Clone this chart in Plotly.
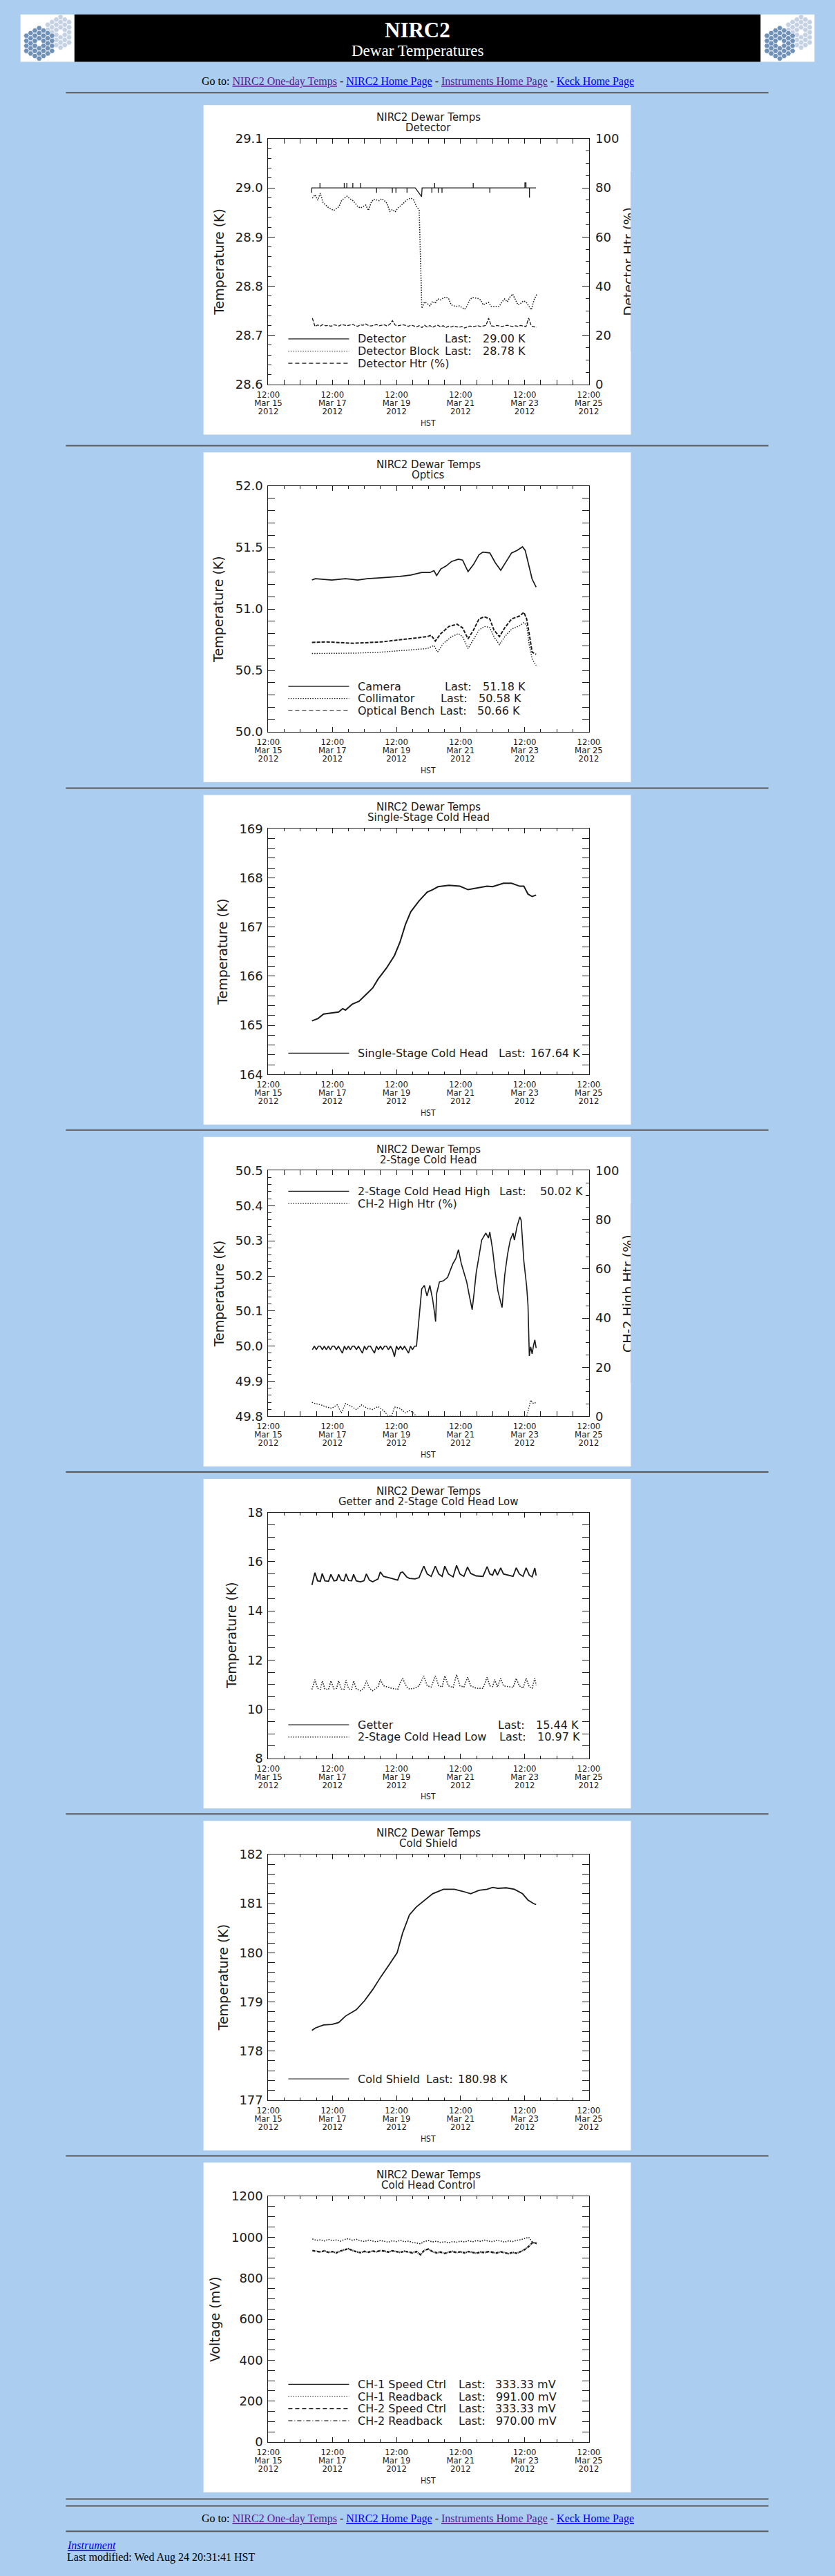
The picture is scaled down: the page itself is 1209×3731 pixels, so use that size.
import numpy as np
import pandas as pd
import plotly.graph_objects as go

W, H = 1209, 3731
BG = "#ABCDEF"
INK = "#1a1a1a"
SANS = "DejaVu Sans"
NARROW = "DejaVu Sans Condensed, Liberation Sans Narrow, DejaVu Sans"
SERIF = "Liberation Serif"
VISITED, LINK = "#551A8B", "#0000EE"

START = pd.Timestamp("2012-03-15 12:00")
END = pd.Timestamp("2012-03-25 12:00")

# ---------------------------------------------------------------------------
# data; times are hours after 12:00 Mar 15 2012 (HST)
# ---------------------------------------------------------------------------

# Detector (K) - flat at 29.00 with single-sample glitches
DET_H = [32.5, 32.6, 38.7, 38.7, 38.7, 56.9, 56.9, 56.9, 58.8, 58.8, 58.8,
         63.3, 63.3, 63.3, 69.1, 69.1, 69.1, 81.1, 81.1, 81.1, 92.9, 92.9, 92.9,
         95.6, 95.6, 95.6, 103.9, 103.9, 103.9, 110.1, 114.8, 115.2,
         122.5, 122.5, 122.5, 124.6, 124.6, 124.6, 127.3, 127.3, 127.3,
         130.1, 130.1, 130.1, 153.5, 153.5, 153.5, 165.9, 165.9, 165.9,
         192.2, 192.2, 193.0, 193.0, 195.6, 195.6, 195.6, 200.5]
DET_K = [28.99, 29.00,
         29.00, 29.01, 29.00, 29.00, 29.01, 29.00, 29.00, 29.01, 29.00,
         29.00, 29.01, 29.00, 29.00, 29.01, 29.00, 29.00, 28.99, 29.00,
         29.00, 28.99, 29.00, 29.00, 28.99, 29.00, 29.00, 28.99, 29.00,
         29.00, 28.982, 29.00,
         29.00, 28.99, 29.00, 29.00, 29.01, 29.00, 29.00, 28.99, 29.00,
         29.00, 28.99, 29.00, 29.00, 29.01, 29.00, 29.00, 28.99, 29.00,
         29.00, 29.01, 29.01, 29.00, 29.00, 28.98, 29.00, 29.00]

# Detector block (K) and detector heater (%), sampled every 2 h
BLOCK_H = list(range(33, 203, 2))
BLOCK_K = [28.979, 28.986, 28.975, 28.989, 28.970, 28.965, 28.960, 28.957, 28.954, 28.958,
           28.962, 28.975, 28.979, 28.983, 28.978, 28.975, 28.969, 28.962, 28.959, 28.962,
           28.965, 28.954, 28.970, 28.977, 28.976, 28.974, 28.978, 28.974, 28.968, 28.952,
           28.956, 28.951, 28.959, 28.963, 28.968, 28.974, 28.978, 28.979, 28.975, 28.962,
           28.955, 28.755, 28.768, 28.765, 28.760, 28.769, 28.765, 28.774, 28.772, 28.776,
           28.778, 28.775, 28.762, 28.760, 28.759, 28.760, 28.757, 28.753, 28.760, 28.773,
           28.777, 28.776, 28.775, 28.772, 28.762, 28.765, 28.767, 28.759, 28.759, 28.758,
           28.759, 28.768, 28.774, 28.768, 28.778, 28.784, 28.772, 28.762, 28.765, 28.770,
           28.768, 28.760, 28.752, 28.772, 28.783]
DET_HTR = [27.0, 23.6, 24.2, 23.8, 24.4, 23.9, 24.1, 23.7, 24.3, 24.0,
           23.8, 24.4, 24.1, 23.9, 24.2, 24.5, 24.0, 23.7, 24.3, 24.1,
           24.6, 24.0, 23.8, 24.2, 24.4, 23.9, 24.1, 24.3, 23.8, 24.5,
           26.0, 24.2, 23.9, 24.1, 24.3, 24.0, 23.7, 24.2, 23.8, 23.5,
           23.9, 23.2, 24.1, 23.4, 24.0, 23.3, 23.8, 24.1, 23.5, 23.9,
           23.2, 23.7, 23.4, 23.9, 23.5, 23.3, 23.6, 23.0, 23.4, 23.8,
           23.5, 23.7, 23.9, 23.6, 23.8, 24.0, 27.0, 23.9, 23.7, 24.0,
           23.8, 23.6, 23.9, 24.1, 23.8, 23.6, 23.9, 23.7, 24.0, 23.8,
           23.6, 27.0, 23.8, 23.5, 23.3]

# Optics (K)
CAM_H = [32.7, 35.3, 47.6, 57.8, 66.9, 74.1, 84.3, 98.6, 106.7, 114.9, 121.0,
         124.1, 126.1, 129.2, 133.3, 137.3, 142.4, 145.5, 149.6, 153.7, 157.8,
         160.8, 165.9, 170.0, 174.1, 178.2, 182.2, 186.3, 190.4, 192.4, 195.5,
         197.6, 200.6]
CAM_K = [51.236, 51.247, 51.236, 51.247, 51.236, 51.247, 51.254, 51.265, 51.276,
         51.297, 51.297, 51.312, 51.272, 51.326, 51.351, 51.387, 51.405, 51.398,
         51.305, 51.362, 51.441, 51.463, 51.456, 51.377, 51.315, 51.387, 51.456,
         51.477, 51.506, 51.477, 51.333, 51.243, 51.178]
COLL_H = [32.7, 47.6, 65.9, 84.3, 104.7, 119.0, 124.1, 126.7, 131.2, 137.3,
          142.4, 145.5, 149.6, 153.7, 157.8, 161.8, 165.9, 169.0, 173.1, 177.1,
          182.2, 188.4, 191.4, 193.5, 195.5, 197.6, 200.6]
COLL_K = [50.638, 50.641, 50.641, 50.649, 50.667, 50.678, 50.703, 50.649, 50.721,
          50.775, 50.800, 50.775, 50.678, 50.750, 50.829, 50.858, 50.850, 50.775,
          50.710, 50.775, 50.836, 50.865, 50.890, 50.865, 50.703, 50.595, 50.541]
BENCH_H = [32.7, 43.5, 63.9, 84.3, 104.7, 119.0, 122.0, 125.1, 129.2, 135.3,
           141.4, 145.5, 149.6, 153.7, 157.8, 161.8, 165.9, 169.0, 173.1, 177.1,
           182.2, 188.4, 191.4, 193.5, 195.5, 197.6, 200.6]
BENCH_K = [50.728, 50.732, 50.721, 50.732, 50.757, 50.775, 50.786, 50.739, 50.800,
           50.858, 50.876, 50.847, 50.757, 50.829, 50.919, 50.937, 50.919, 50.829,
           50.775, 50.847, 50.919, 50.944, 50.973, 50.919, 50.793, 50.649, 50.631]

# Single-stage cold head (K)
SSCH_H = [32.7, 37.3, 41.4, 47.6, 52.7, 55.7, 57.8, 62.9, 68.0, 74.1, 78.2, 82.2,
          88.4, 94.5, 98.6, 102.7, 106.7, 112.9, 119.0, 123.1, 127.1, 135.3, 143.5,
          149.6, 157.8, 163.9, 168.0, 176.1, 182.2, 188.4, 191.4, 194.5, 197.6, 200.6]
SSCH_K = [165.09, 165.14, 165.23, 165.25, 165.27, 165.34, 165.31, 165.43, 165.49,
          165.65, 165.76, 165.94, 166.16, 166.42, 166.69, 167.05, 167.31, 167.53,
          167.71, 167.76, 167.82, 167.85, 167.83, 167.76, 167.80, 167.83, 167.82,
          167.89, 167.89, 167.83, 167.83, 167.67, 167.62, 167.65]

# 2-stage cold head high (K): quantised flat stretch every 1.5 h, then turning points
CH2_FLAT_H = [33.0 + 1.5 * i for i in range(53)]
CH2_FLAT_K = [49.99, 50.00, 49.99, 50.00, 50.00, 49.99, 50.00, 49.99, 50.00, 49.99,
              50.00, 50.00, 49.99, 50.00, 49.99, 49.98, 50.00, 49.99, 50.00, 49.99,
              50.00, 50.00, 49.99, 50.00, 49.99, 49.98, 50.00, 49.99, 50.00, 50.00,
              49.99, 49.98, 50.00, 49.99, 50.00, 49.99, 50.00, 50.00, 49.99, 50.00,
              49.99, 49.97, 50.00, 49.99, 50.00, 49.99, 50.00, 49.99, 49.98, 50.00,
              49.99, 50.00, 50.00]
CH2_REST_H = [114.9, 116.9, 117.9, 118.9, 121.0, 123.1, 124.7, 125.3, 126.1, 128.2,
              131.2, 134.3, 136.3, 138.4, 140.4, 142.4, 144.5, 146.5, 148.6, 150.6,
              152.7, 154.1, 155.7, 157.8, 159.8, 162.9, 164.9, 165.9, 168.0, 170.0,
              172.0, 174.1, 175.1, 177.1, 179.2, 181.2, 183.3, 184.3, 186.3, 188.4,
              189.4, 191.4, 193.5, 194.5, 195.5, 196.5, 197.6, 198.6, 199.6, 200.6]
CH2_REST_K = [50.163, 50.173, 50.157, 50.143, 50.173, 50.133, 50.090, 50.070, 50.150, 50.183,
              50.186, 50.196, 50.216, 50.236, 50.249, 50.275, 50.236, 50.209, 50.183, 50.143,
              50.104, 50.150, 50.209, 50.256, 50.302, 50.322, 50.308, 50.325, 50.275, 50.209,
              50.157, 50.124, 50.110, 50.203, 50.262, 50.302, 50.322, 50.302, 50.341, 50.368,
              50.358, 50.242, 50.170, 50.117, 49.972, 49.998, 49.978, 50.001, 50.018, 49.995]
CH2_HTR_H = [32.7, 35.3, 39.4, 43.5, 47.6, 51.6, 54.7, 57.8, 61.8, 65.9, 70.0, 74.1,
             78.2, 82.2, 86.3, 89.4, 92.4, 94.5, 98.6, 102.7, 105.7, 108.8, 110.8,
             193.5, 195.5, 196.5, 198.6, 200.6]
CH2_HTR = [5.7, 5.2, 4.7, 3.8, 3.3, 4.7, 1.4, 5.2, 4.2, 2.8, 4.7, 3.3,
           2.8, 4.0, 2.4, 0.5, 0.0, 3.8, 3.3, 1.4, 2.4, 1.4, 0.0,
           0.0, 4.2, 6.6, 5.2, 5.7]

# Getter and 2-stage cold head low (K), turning points
GET_H = [32.7, 34.9, 36.9, 39.0, 40.4, 42.4, 45.1, 46.9, 49.2, 51.2,
         52.7, 54.7, 56.7, 58.2, 60.2, 62.4, 63.9, 65.9, 69.0, 71.6,
         73.5, 75.7, 78.2, 82.2, 83.9, 86.3, 92.4, 96.9, 99.0, 100.6,
         103.7, 105.7, 109.8, 112.9, 116.5, 119.0, 122.0, 125.1, 127.6, 130.2,
         132.2, 134.9, 138.4, 141.0, 143.5, 146.5, 149.2, 151.6, 155.7, 160.8,
         163.9, 165.9, 168.0, 169.6, 171.6, 174.1, 176.1, 183.3, 185.7, 188.0,
         190.8, 193.1, 195.5, 197.6, 199.6, 200.6]
GETTER_K = [15.05, 15.55, 15.22, 15.20, 15.52, 15.22, 15.20, 15.48, 15.22, 15.24,
            15.48, 15.24, 15.22, 15.50, 15.23, 15.22, 15.48, 15.22, 15.18, 15.22,
            15.50, 15.25, 15.18, 15.30, 15.58, 15.40, 15.32, 15.25, 15.55, 15.58,
            15.38, 15.32, 15.30, 15.35, 15.82, 15.50, 15.40, 15.82, 15.50, 15.40,
            15.82, 15.50, 15.38, 15.85, 15.50, 15.40, 15.78, 15.52, 15.42, 15.40,
            15.80, 15.50, 15.45, 15.70, 15.45, 15.75, 15.50, 15.40, 15.75, 15.50,
            15.40, 15.75, 15.45, 15.38, 15.74, 15.44]
CHLOW_K = [10.80, 11.20, 10.85, 10.80, 11.15, 10.82, 10.80, 11.15, 10.82, 10.85,
           11.15, 10.82, 10.80, 11.18, 10.82, 10.80, 11.15, 10.82, 10.75, 10.85,
           11.15, 10.85, 10.75, 10.90, 11.20, 10.95, 10.85, 10.80, 11.10, 11.25,
           10.90, 10.82, 10.85, 10.95, 11.35, 10.95, 10.90, 11.35, 10.95, 10.90,
           11.35, 10.95, 10.88, 11.40, 10.95, 10.90, 11.30, 10.95, 10.85, 10.85,
           11.30, 10.95, 10.92, 11.20, 10.90, 11.25, 10.95, 10.88, 11.25, 10.95,
           10.85, 11.25, 10.90, 10.85, 11.25, 10.97]

# Cold shield (K)
SHIELD_H = [32.7, 35.3, 41.4, 47.6, 52.7, 57.8, 65.9, 72.0, 78.2, 84.3, 90.4,
            96.5, 100.6, 105.7, 110.8, 116.9, 123.1, 131.2, 139.4, 145.5, 151.6,
            157.8, 163.9, 168.0, 172.0, 178.2, 184.3, 190.4, 194.5, 198.6, 200.6]
SHIELD_K = [178.42, 178.47, 178.53, 178.54, 178.58, 178.71, 178.84, 179.02, 179.25,
            179.51, 179.75, 180.00, 180.40, 180.77, 180.93, 181.07, 181.20, 181.29,
            181.29, 181.25, 181.20, 181.27, 181.29, 181.33, 181.31, 181.32, 181.29,
            181.20, 181.07, 181.00, 180.98]

# Cold head control readbacks (mV), sampled every 3 h
CTRL_H = list(range(33, 202, 3))
CH1_RB = [992, 985, 988, 982, 990, 984, 987, 981, 989, 993,
          985, 990, 983, 979, 986, 982, 978, 984, 980, 976,
          983, 979, 985, 978, 981, 975, 972, 968, 980, 984,
          977, 981, 975, 978, 973, 979, 976, 981, 977, 983,
          978, 984, 980, 986, 981, 979, 985, 982, 976, 983,
          979, 985, 988, 993, 1000, 975, 970]
CH2_RB = [935, 932, 928, 934, 926, 930, 924, 933, 938, 944,
          936, 929, 925, 931, 927, 933, 929, 935, 932, 928,
          934, 930, 926, 932, 928, 924, 930, 915, 938, 942,
          930, 924, 928, 921, 927, 931, 925, 929, 924, 930,
          926, 922, 928, 925, 930, 927, 923, 929, 924, 920,
          926, 922, 930, 940, 955, 975, 970]

# ---------------------------------------------------------------------------
# page geometry (pixels, measured from the top-left of the page)
# ---------------------------------------------------------------------------
PANEL_L, PANEL_W, PANEL_H = 284, 640, 480
PANEL_TOPS = [142, 648, 1147, 1645, 2143, 2641, 3139]
PX0, PX1, PY0, PY1 = 97, 577, 49, 407          # plot box inside a panel
HR_Y = [124, 638, 1137, 1635, 2133, 2631, 3129, 3629, 3639, 3676]

DOT, DASH, DASHDOT = "1.5px,2px", "6px,4px", "6px,3px,1px,3px"

# three stacked date-label rows under each x axis: (format, standoff)
XLABEL_ROWS = [("%H:%M", 5), ("%b %d", 17), ("%Y", 29)]


def t(hours):
    return START + pd.to_timedelta(np.asarray(hours, dtype=float), unit="h")


PANELS = [
    dict(sub="Detector", ytitle="Temperature (K)", ytx=23,
         yr=(28.6, 29.1), dt=0.1, mdt=0.02, fmt=".1f",
         right=("Detector Htr (%)", (0, 100), 20, 5),
         traces=[(DET_H, DET_K, "solid", 1.3, False),
                 (BLOCK_H, BLOCK_K, DOT, 1.6, False),
                 (BLOCK_H, DET_HTR, "5px,2px", 1.3, True)],
         legend=[("Detector", "solid", 359, "29.00 K", 416),
                 ("Detector Block", DOT, 359, "28.78 K", 416),
                 ("Detector Htr (%)", DASH, None, None, None)],
         legend_top=False),
    dict(sub="Optics", ytitle="Temperature (K)", ytx=22,
         yr=(50.0, 52.0), dt=0.5, mdt=0.1, fmt=".1f", right=None,
         traces=[(CAM_H, CAM_K, "solid", 1.7, False),
                 (COLL_H, COLL_K, DOT, 1.4, False),
                 (BENCH_H, BENCH_K, "5px,2px", 2.0, False)],
         legend=[("Camera", "solid", 359, "51.18 K", 416),
                 ("Collimator", DOT, 353, "50.58 K", 410),
                 ("Optical Bench", DASH, 352, "50.66 K", 408)],
         legend_top=False),
    dict(sub="Single-Stage Cold Head", ytitle="Temperature (K)", ytx=29,
         yr=(164, 169), dt=1, mdt=0.2, fmt="d", right=None,
         traces=[(SSCH_H, SSCH_K, "solid", 2.0, False)],
         legend=[("Single-Stage Cold Head", "solid", 440, "167.64 K", 488)],
         legend_top=False),
    dict(sub="2-Stage Cold Head", ytitle="Temperature (K)", ytx=24,
         yr=(49.8, 50.5), dt=0.1, mdt=0.02, fmt=".1f",
         right=("CH-2 High Htr (%)", (0, 100), 20, 5),
         traces=[(CH2_FLAT_H + CH2_REST_H, CH2_FLAT_K + CH2_REST_K, "solid", 1.6, False),
                 (CH2_HTR_H, CH2_HTR, DOT, 1.4, True)],
         legend=[("2-Stage Cold Head High", "solid", 441, "50.02 K", 502),
                 ("CH-2 High Htr (%)", DOT, None, None, None)],
         legend_top=True),
    dict(sub="Getter and 2-Stage Cold Head Low", ytitle="Temperature (K)", ytx=41,
         yr=(8, 18), dt=2, mdt=0.5, fmt="d", right=None,
         traces=[(GET_H, GETTER_K, "solid", 1.8, False),
                 (GET_H, CHLOW_K, DOT, 1.6, False)],
         legend=[("Getter", "solid", 439, "15.44 K", 496),
                 ("2-Stage Cold Head Low", DOT, 441, "10.97 K", 498)],
         legend_top=False),
    dict(sub="Cold Shield", ytitle="Temperature (K)", ytx=29,
         yr=(177, 182), dt=1, mdt=0.2, fmt="d", right=None,
         traces=[(SHIELD_H, SHIELD_K, "solid", 1.8, False)],
         legend=[("Cold Shield", "solid", 331, "180.98 K", 379)],
         legend_top=False),
    dict(sub="Cold Head Control", ytitle="Voltage (mV)", ytx=17,
         yr=(0, 1200), dt=200, mdt=50, fmt="d", right=None,
         traces=[(CTRL_H, CH1_RB, DOT, 1.6, False),
                 (CTRL_H, CH2_RB, "4px,1px,1px,1px", 2.4, False)],
         legend=[("CH-1 Speed Ctrl", "solid", 380, "333.33 mV", 435),
                 ("CH-1 Readback", DOT, 380, "991.00 mV", 436),
                 ("CH-2 Speed Ctrl", DASH, 380, "333.33 mV", 435),
                 ("CH-2 Readback", DASHDOT, 380, "970.00 mV", 436)],
         legend_top=False),
]


def px(x):
    return x / W


def py(y):
    return 1 - y / H


def note(text, x, y, size, family=SANS, color=INK, xanchor="center",
         yanchor="middle", angle=0, **kw):
    return dict(text=text, x=px(x), y=py(y), xref="paper", yref="paper",
                showarrow=False, xanchor=xanchor, yanchor=yanchor, textangle=angle,
                font=dict(family=family, size=size, color=color), **kw)


def rect(x0, y0, x1, y1, fill, layer="below"):
    return dict(type="rect", xref="paper", yref="paper", x0=px(x0), x1=px(x1),
                y0=py(y1), y1=py(y0), fillcolor=fill, line=dict(width=0), layer=layer)


def hline(x0, x1, y, color, width, dash="solid", layer="below"):
    return dict(type="line", xref="paper", yref="paper", x0=px(x0), x1=px(x1),
                y0=py(y), y1=py(y), line=dict(color=color, width=width, dash=dash),
                layer=layer)


fig = go.Figure()
shapes, notes = [], []
layout = dict(width=W, height=H, margin=dict(l=0, r=0, t=0, b=0),
              paper_bgcolor=BG, plot_bgcolor="rgba(0,0,0,0)", showlegend=False)

# ---------------- header ----------------
shapes.append(rect(91, 10, 1118, 79, "black"))
for lx in (10, 1119):
    shapes.append(rect(lx, 10, lx + 80, 79, "white"))
notes.append(note("<b>NIRC2</b>", 604.5, 33, 31, family=SERIF, color="white"))
notes.append(note("Dewar Temperatures", 604.5, 63, 23, family=SERIF, color="white"))

GOTO = ('Go to: <span style="color:%s"><u>NIRC2 One-day Temps</u></span> - '
        '<span style="color:%s"><u>NIRC2 Home Page</u></span> - '
        '<span style="color:%s"><u>Instruments Home Page</u></span> - '
        '<span style="color:%s"><u>Keck Home Page</u></span>') % (VISITED, LINK, VISITED, LINK)
notes.append(note(GOTO, 604.5, 108, 16, family=SERIF, color="black"))
notes.append(note(GOTO, 604.5, 3658, 16, family=SERIF, color="black"))
notes.append(note('<i><u>Instrument</u></i>', 78, 3696, 16, family=SERIF, color=LINK,
                  xanchor="left"))
notes.append(note("Last modified: Wed Aug 24 20:31:41 HST", 78, 3714, 16, family=SERIF,
                  color="black", xanchor="left"))

for y in HR_Y:
    shapes.append(hline(78, 1130, y, "#5a5a5a", 2))

# Keck logo: two hexagonal mirrors (decoration) on a page-pixel axis
logo_x, logo_y, logo_c = [], [], []
for lx in (10, 1119):
    for cx, cy, col in ((lx + 60, 36, "#C3D1E3"), (lx + 28, 52, "#6F90B7")):
        for q in range(-3, 4):
            for r in range(-3, 4):
                if abs(q) + abs(r) + abs(q + r) > 6 or (q == 0 and r == 0):
                    continue
                hx = cx + 6.4 * q
                hy = cy + 7.4 * (r + q / 2)
                if lx + 1 < hx < lx + 79 and 11 < hy < 78:
                    logo_x.append(hx)
                    logo_y.append(hy)
                    logo_c.append(col)
fig.add_trace(go.Scatter(x=logo_x, y=logo_y, mode="markers", xaxis="x8", yaxis="y8",
                         hoverinfo="skip",
                         marker=dict(symbol="hexagon2", size=8, color=logo_c,
                                     line=dict(color="white", width=0.6))))
layout["xaxis8"] = dict(domain=[0, 1], range=[0, W], visible=False, anchor="y8")
layout["yaxis8"] = dict(domain=[0, 1], range=[H, 0], visible=False, anchor="x8")

# ---------------- panels ----------------
pad = pd.Timedelta(minutes=2)
right_axis = {0: 9, 3: 10}
extra_x = 11
for k, p in enumerate(PANELS):
    n = k + 1
    top = PANEL_TOPS[k]
    L = PANEL_L
    shapes.append(rect(L, top, L + PANEL_W, top + PANEL_H, "white"))

    xd = [px(L + PX0), px(L + PX1)]
    yd = [py(top + PY1), py(top + PY0)]
    lo, hi = p["yr"]
    eps = (hi - lo) * 1e-6
    xtick = dict(type="date", domain=xd, anchor=f"y{n}", range=[START - pad, END + pad],
                 tick0=START, dtick=2 * 86400000, showgrid=False, zeroline=False,
                 tickfont=dict(family=NARROW, size=13, color=INK))
    # frame + ticks; its labels come from the label-only overlay axes below
    layout[f"xaxis{n}"] = dict(
        xtick, showticklabels=False,
        ticks="inside", ticklen=7, tickwidth=1, tickcolor=INK,
        showline=True, linecolor=INK, linewidth=1, mirror="allticks",
        minor=dict(tick0=START, dtick=43200000, ticks="inside", ticklen=4,
                   tickcolor=INK, tickwidth=1, showgrid=False))
    for fmt, off in XLABEL_ROWS:
        layout[f"xaxis{extra_x}"] = dict(
            xtick, overlaying=f"x{n}", side="bottom", tickformat=fmt,
            ticklabelstandoff=off, ticks="", showline=False)
        # an empty trace so that the label-only axis gets drawn
        fig.add_trace(go.Scatter(x=[START], y=[None], mode="lines",
                                 xaxis=f"x{extra_x}", yaxis=f"y{n}", hoverinfo="skip"))
        extra_x += 1

    layout[f"yaxis{n}"] = dict(
        domain=yd, anchor=f"x{n}", range=[lo - eps, hi + eps], tick0=lo, dtick=p["dt"],
        tickformat=p["fmt"], ticks="inside", ticklen=10, tickwidth=1, tickcolor=INK,
        showline=True, linecolor=INK, linewidth=1,
        mirror=False if p["right"] else "allticks",
        showgrid=False, zeroline=False, ticklabelstandoff=3,
        tickfont=dict(family=SANS, size=18, color=INK),
        minor=dict(dtick=p["mdt"], tick0=lo, ticks="inside", ticklen=5,
                   tickcolor=INK, tickwidth=1, showgrid=False))
    if p["right"]:
        rn = right_axis[k]
        rtitle, (rlo, rhi), rdt, rmdt = p["right"]
        layout[f"yaxis{rn}"] = dict(
            overlaying=f"y{n}", anchor=f"x{n}", side="right",
            range=[rlo - 1e-4, rhi + 1e-4], tick0=rlo, dtick=rdt, tickformat="d",
            ticks="inside", ticklen=10, tickwidth=1, tickcolor=INK,
            showline=True, linecolor=INK, linewidth=1, showgrid=False, zeroline=False,
            ticklabelstandoff=5, tickfont=dict(family=SANS, size=18, color=INK),
            minor=dict(dtick=rmdt, tick0=rlo, ticks="inside", ticklen=5,
                       tickcolor=INK, tickwidth=1, showgrid=False))

    for hrs, vals, dash, width, secondary in p["traces"]:
        fig.add_trace(go.Scatter(
            x=t(hrs), y=vals, mode="lines", xaxis=f"x{n}",
            yaxis=f"y{right_axis[k]}" if secondary else f"y{n}",
            line=dict(color=INK, width=width, dash=dash), hoverinfo="skip"))

    cx = L + (PX0 + PX1) / 2
    notes.append(note("NIRC2 Dewar Temps", cx, top + 18, 15))
    notes.append(note(p["sub"], cx, top + 33, 15))
    notes.append(note("HST", cx, top + 463, 12, family=NARROW))
    notes.append(note(p["ytitle"], L + p["ytx"], top + (PY0 + PY1) / 2, 19, angle=-90))
    if p["right"]:
        notes.append(note(p["right"][0], L + 636, top + (PY0 + PY1) / 2, 19, angle=-90))
        # the original image crops this title at its right edge
        notes.append(note(" ", L + PANEL_W + 20, top + (PY0 + PY1) / 2, 10,
                          width=40, height=260, bgcolor=BG, borderpad=0, borderwidth=0))

    rows = p["legend"]
    if p["legend_top"]:
        ys = [top + 79 + 18 * i for i in range(len(rows))]
    else:
        ys = [top + 376 - 17.7 * (len(rows) - 1 - i) for i in range(len(rows))]
    for (label, dash, last_x, value, value_x), ry in zip(rows, ys):
        shapes.append(hline(L + 127, L + 218, ry, INK, 1.2, dash=dash, layer="above"))
        notes.append(note(label, L + 229, ry, 16, xanchor="left"))
        if last_x is not None:
            notes.append(note("Last:", L + last_x, ry, 16, xanchor="left"))
            notes.append(note(value, L + value_x, ry, 16, xanchor="left"))

layout["shapes"] = shapes
layout["annotations"] = notes
fig.update_layout(**layout)

fig.write_html("out.html", config={"displayModeBar": False, "staticPlot": True},
               post_script="document.body.style.margin='0';"
                           "document.body.style.overflow='hidden';")
